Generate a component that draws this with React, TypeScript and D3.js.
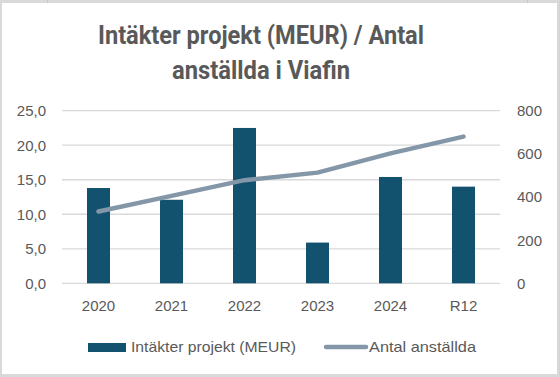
import React from "react";
import * as d3 from "d3";

const categories = ["2020", "2021", "2022", "2023", "2024", "R12"];
const revenue = [13.8, 12.1, 22.5, 5.9, 15.4, 14.0];
const employees = [333, 405, 478, 513, 602, 680];
const leftTicks = [0, 5, 10, 15, 20, 25];
const rightTicks = [0, 200, 400, 600, 800];
const titleLines = ["Intäkter projekt (MEUR) / Antal", "anställda i Viafin"];
const legendLabels = ["Intäkter projekt (MEUR)", "Antal anställda"];

const W = 559;
const H = 377;
const plot = { left: 62, right: 500, top: 110.7, bottom: 283.3 };
const barColor = "#13526E";
const lineColor = "#8497A8";
const textColor = "#595959";
const gridColor = "#D9D9D9";
const font = "'Liberation Sans', Arial, sans-serif";

export default function App() {
  const x = d3
    .scaleBand<string>()
    .domain(categories)
    .range([plot.left, plot.right])
    .paddingInner(0.685)
    .paddingOuter(0.3425);
  const yL = d3.scaleLinear().domain([0, 25]).range([plot.bottom, plot.top]);
  const yR = d3.scaleLinear().domain([0, 800]).range([plot.bottom, plot.top]);
  const cx = (c: string) => (x(c) ?? 0) + x.bandwidth() / 2;

  const line = d3
    .line<number>()
    .x((_, i) => cx(categories[i]))
    .y((d) => yR(d));

  return (
    <svg
      width={W}
      height={H}
      style={{ position: "absolute", left: 0, top: 0, display: "block" }}
      fontFamily={font}
    >
      <rect x={0} y={0} width={W} height={H} fill="#D9D9D9" />
      <rect x={2} y={3} width={555} height={371} fill="#FFFFFF" />
      <line x1={47.5} x2={47.5} y1={0} y2={3} stroke="#C8C8C8" />
      <line x1={527.5} x2={527.5} y1={0} y2={3} stroke="#C8C8C8" />

      {titleLines.map((t, i) => (
        <text
          key={t}
          x={261}
          y={i === 0 ? 44 : 79}
          textAnchor="middle"
          fontFamily="Roboto, sans-serif"
          fontWeight="bold"
          fontSize={25}
          fill={textColor}
          textLength={i === 0 ? 326 : 178}
          lengthAdjust="spacingAndGlyphs"
        >
          {t}
        </text>
      ))}

      {leftTicks.map((t) => (
        <g key={"g" + t}>
          <line
            x1={plot.left}
            x2={plot.right}
            y1={yL(t)}
            y2={yL(t)}
            stroke={gridColor}
            strokeWidth={1.3}
          />
          <text
            x={46}
            y={yL(t)}
            dy="0.36em"
            textAnchor="end"
            fontSize={15}
            fill={textColor}
          >
            {t.toFixed(1).replace(".", ",")}
          </text>
        </g>
      ))}

      {rightTicks.map((t) => (
        <text
          key={"r" + t}
          x={517}
          y={yR(t)}
          dy="0.36em"
          textAnchor="start"
          fontSize={15}
          fill={textColor}
        >
          {t}
        </text>
      ))}

      {categories.map((c, i) => (
        <rect
          key={c}
          x={x(c)}
          y={yL(revenue[i])}
          width={x.bandwidth()}
          height={yL(0) - yL(revenue[i])}
          fill={barColor}
        />
      ))}

      {categories.map((c) => (
        <text
          key={"x" + c}
          x={cx(c)}
          y={311}
          textAnchor="middle"
          fontSize={15}
          fill={textColor}
        >
          {c}
        </text>
      ))}

      <path
        d={line(employees) ?? ""}
        fill="none"
        stroke={lineColor}
        strokeWidth={4.5}
        strokeLinecap="round"
        strokeLinejoin="round"
      />

      <rect x={88} y={343} width={38} height={9} fill={barColor} />
      <text
        x={131}
        y={352}
        fontSize={15}
        fill={textColor}
        textLength={165}
        lengthAdjust="spacingAndGlyphs"
      >
        {legendLabels[0]}
      </text>
      <line
        x1={326}
        x2={366}
        y1={347}
        y2={347}
        stroke={lineColor}
        strokeWidth={4.5}
        strokeLinecap="round"
      />
      <text
        x={369}
        y={352}
        fontSize={15}
        fill={textColor}
        textLength={107}
        lengthAdjust="spacingAndGlyphs"
      >
        {legendLabels[1]}
      </text>
    </svg>
  );
}
